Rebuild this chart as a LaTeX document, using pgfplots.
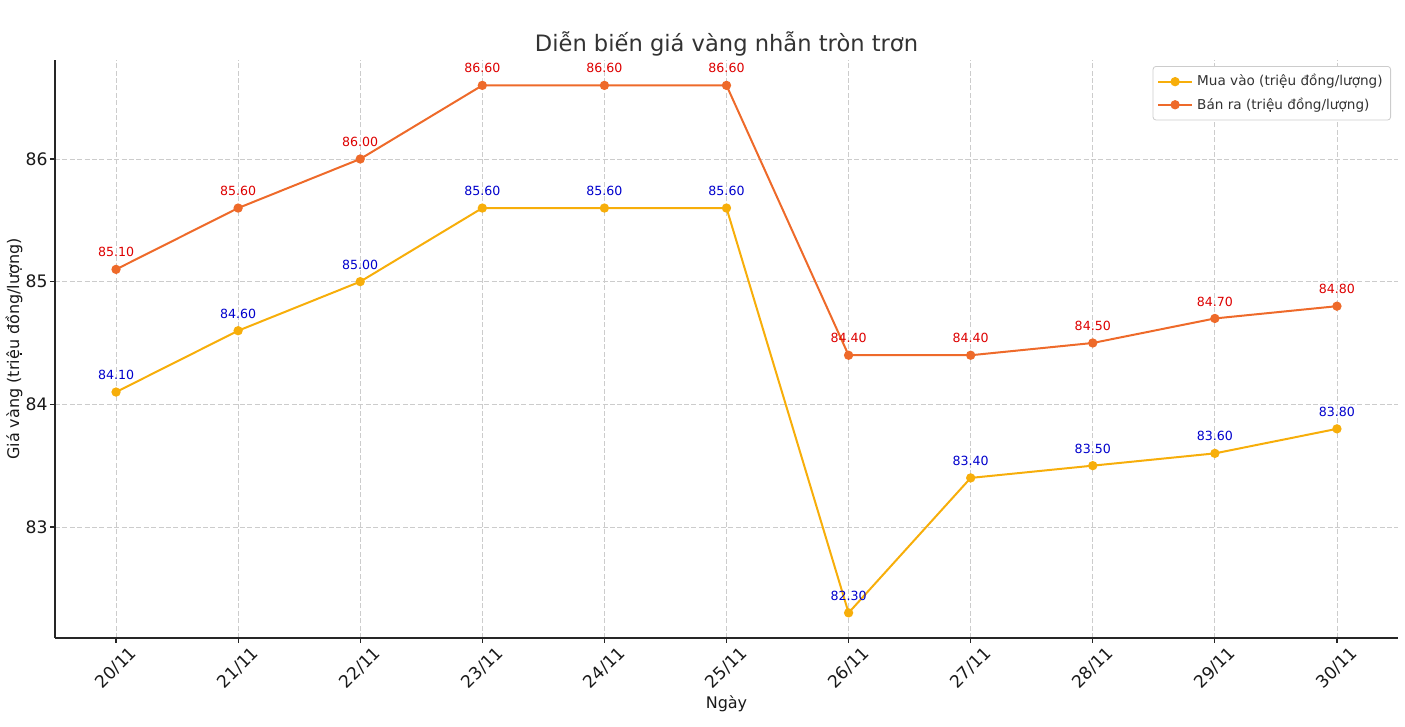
\documentclass[border=0pt]{standalone}
\usepackage{pgfplots}
\pgfplotsset{compat=1.18}
\usepackage{graphicx}
\usepackage{fontspec}
\setmainfont{DejaVu Sans}
\definecolor{buy}{HTML}{F7AE0A}
\definecolor{sell}{HTML}{EE6A2A}
\definecolor{lblblue}{HTML}{0000CC}
\definecolor{lblred}{HTML}{DD0000}
\definecolor{txt}{HTML}{333333}
\newcommand{\rl}[1]{\rotatebox{45}{#1}}
\begin{document}
\begin{tikzpicture}
\useasboundingbox (-27.5pt,-44.5pt) rectangle (675pt,319pt);
\begin{axis}[
  at={(0,0)}, anchor=south west,
  scale only axis, width=671.5pt, height=289pt,
  xmin=-0.5, xmax=10.5, ymin=82.095, ymax=86.807,
  axis x line*=bottom, axis y line*=left,
  axis line style={line width=0.8pt, black!85},
  tick align=outside, tick style={black!85, line width=0.6pt},
  major tick length=2.5pt,
  xtick={0,...,10},
  xticklabels={\rl{20/11},\rl{21/11},\rl{22/11},\rl{23/11},\rl{24/11},\rl{25/11},\rl{26/11},\rl{27/11},\rl{28/11},\rl{29/11},\rl{30/11}},
  ytick={83,84,85,86},
  /pgf/number format/assume math mode=true,
  ticklabel style={font=\fontsize{8.6}{10}\selectfont, text=black!90},
  xticklabel style={inner sep=1pt},
  yticklabel style={inner sep=1pt},
  grid=major,
  major grid style={dash pattern=on 2.5pt off 1.2pt, line width=0.4pt, color=black!20},
  title={Diễn biến giá vàng nhẫn tròn trơn},
  title style={font=\fontsize{11.3}{13}\selectfont, text=txt, at={(0.5,1)}, anchor=center, yshift=2pt},
  xlabel={Ngày}, ylabel={Giá vàng (triệu đồng/lượng)},
  label style={font=\fontsize{8}{10}\selectfont, text=black!90},
  xlabel style={at={(0.5,0)}, anchor=center, yshift=-33pt},
  ylabel style={at={(0,0.5)}, anchor=center, yshift=20.5pt},
  legend style={at={(0.9948,0.9896)}, anchor=north east, font=\fontsize{6.8}{8}\selectfont,
    draw=black!20, rounded corners=1.5pt, inner sep=2pt, row sep=0.3pt, text=txt},
  legend cell align=left,
  nodes near coords,
  point meta=y,
  nodes near coords style={font=\fontsize{6.3}{7}\selectfont, anchor=center, yshift=8.5pt,
    /pgf/number format/fixed, /pgf/number format/fixed zerofill,
    /pgf/number format/precision=2, /pgf/number format/assume math mode=true},
]
\addplot[color=buy, line width=1pt, mark=*, mark size=1.8pt,
  nodes near coords style={text=lblblue}] coordinates {
  (0,84.1) (1,84.6) (2,85.0) (3,85.6) (4,85.6) (5,85.6) (6,82.3) (7,83.4) (8,83.5) (9,83.6) (10,83.8)};
\addlegendentry{Mua vào (triệu đồng/lượng)}
\addplot[color=sell, line width=1pt, mark=*, mark size=1.8pt,
  nodes near coords style={text=lblred}] coordinates {
  (0,85.1) (1,85.6) (2,86.0) (3,86.6) (4,86.6) (5,86.6) (6,84.4) (7,84.4) (8,84.5) (9,84.7) (10,84.8)};
\addlegendentry{Bán ra (triệu đồng/lượng)}
\end{axis}
\end{tikzpicture}
\end{document}
